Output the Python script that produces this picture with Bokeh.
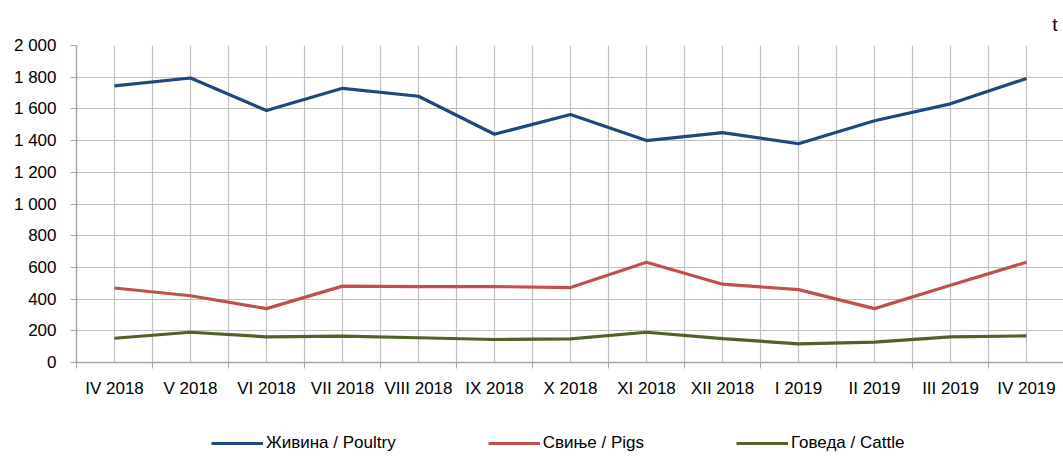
from bokeh.plotting import figure
from bokeh.layouts import column
from bokeh.models import Range1d, FixedTicker, Legend, LegendItem, Title
from bokeh.embed import file_html
from bokeh.resources import INLINE

months = ["IV 2018", "V 2018", "VI 2018", "VII 2018", "VIII 2018", "IX 2018", "X 2018",
          "XI 2018", "XII 2018", "I 2019", "II 2019", "III 2019", "IV 2019"]
poultry = [1745, 1795, 1590, 1730, 1680, 1440, 1565, 1400, 1450, 1380, 1525, 1632, 1792]
pigs = [470, 421, 340, 482, 479, 479, 473, 633, 494, 460, 340, 487, 633]
cattle = [153, 191, 162, 166, 156, 145, 149, 191, 151, 118, 128, 162, 168]
y_ticks = [0, 200, 400, 600, 800, 1000, 1200, 1400, 1600, 1800, 2000]
y_labels = ["0", "200", "400", "600", "800", "1 000", "1 200", "1 400", "1 600", "1 800", "2 000"]
names = ["Живина / Poultry", "Свиње / Pigs", "Говеда / Cattle"]
colors = ["#1F497D", "#C0504D", "#4F6228"]

FONT = "Liberation Sans"
FS = "17px"
GRID = "#bfbfbf"
AXIS = "#a6a6a6"

x = list(range(len(months)))
series_list = [poultry, pigs, cattle]

p = figure(width=1063, height=410, x_range=Range1d(-0.5, 12.487), y_range=Range1d(0, 2000),
           output_backend="svg", toolbar_location=None,
           min_border_left=76, min_border_right=0, min_border_top=45, min_border_bottom=48)
p.outline_line_color = None

for series, col in zip(series_list, colors):
    p.line(x, series, line_color=col, line_width=3.2)

xa = p.xaxis[0]
xa.ticker = FixedTicker(ticks=x, minor_ticks=[i - 0.5 for i in range(len(months) + 1)])
xa.major_label_overrides = {i: m for i, m in enumerate(months)}
xa.major_tick_in = 0
xa.major_tick_out = 0
xa.minor_tick_in = 0
xa.minor_tick_out = 6
xa.minor_tick_line_color = AXIS
xa.axis_line_color = AXIS
xa.axis_line_width = 1.5
xa.major_label_standoff = 10
xa.major_label_text_font = FONT
xa.major_label_text_font_size = FS
xa.major_label_text_color = "#000000"

ya = p.yaxis[0]
ya.ticker = FixedTicker(ticks=y_ticks, minor_ticks=[])
ya.major_label_overrides = {t: l for t, l in zip(y_ticks, y_labels)}
ya.major_tick_in = 0
ya.major_tick_out = 6
ya.major_tick_line_color = AXIS
ya.minor_tick_line_color = None
ya.axis_line_color = AXIS
ya.axis_line_width = 1.5
ya.major_label_standoff = 14
ya.major_label_text_font = FONT
ya.major_label_text_font_size = FS
ya.major_label_text_color = "#000000"

p.xgrid.grid_line_color = GRID
p.xgrid.minor_grid_line_color = GRID
p.xgrid.grid_line_width = 1.2
p.xgrid.minor_grid_line_width = 1.2
p.ygrid.grid_line_color = GRID
p.ygrid.grid_line_width = 1.2

p.add_layout(Title(text="t", align="right", text_font=FONT, text_font_size="19px",
                   text_font_style="normal", text_color="#000000", standoff=22, offset=6), "above")

# legend strip below the chart (series drawn out of view; only the legend shows)
pl = figure(width=1063, height=47, x_range=Range1d(-3, -2), y_range=Range1d(-3, -2),
            output_backend="svg", toolbar_location=None,
            x_axis_location=None, y_axis_location=None,
            min_border_left=0, min_border_right=0, min_border_top=0, min_border_bottom=0)
pl.outline_line_color = None
pl.xgrid.visible = False
pl.ygrid.visible = False
legend_renderers = [pl.line(x, series, line_color=col, line_width=3.2)
                    for series, col in zip(series_list, colors)]

legend = Legend(items=[LegendItem(label=n, renderers=[r]) for n, r in zip(names, legend_renderers)],
                orientation="horizontal", location=(135, 4), padding=0, margin=0,
                spacing=92, glyph_width=52, glyph_height=18, label_standoff=3,
                border_line_color=None, background_fill_alpha=0,
                label_text_font=FONT, label_text_font_size=FS, label_text_color="#000000")
pl.add_layout(legend, "center")

layout = column(p, pl, spacing=0)
open("out.html", "w").write(file_html(layout, INLINE))
